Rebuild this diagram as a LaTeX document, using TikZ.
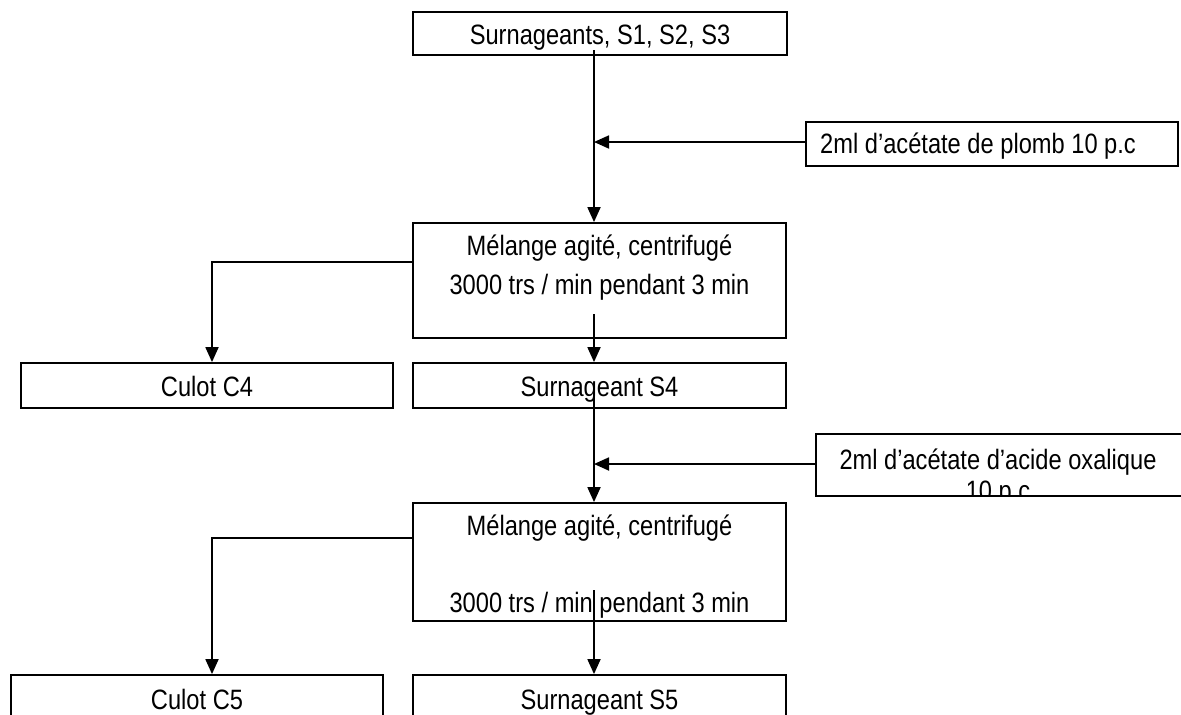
\documentclass[tikz,border=0pt]{standalone}
\usepackage{fontspec}
\setmainfont{Liberation Sans}[FakeStretch=0.845]
\usetikzlibrary{arrows.meta,positioning}

\tikzset{
 box/.style={draw, line width=1.8pt, inner sep=0pt, text height=22pt, text depth=0pt, font=\fontsize{28}{33}\selectfont},
 txt/.style={inner sep=0pt, anchor=base, font=\fontsize{28}{33}\selectfont},
 arr/.style={line width=1.8pt, -{Triangle[length=15pt,width=13pt]}}
}

\begin{document}
\begin{tikzpicture}[x=1pt,y=-1pt]
 \clip (0,0) rectangle (1181,715);
 % boxes
 \node[box, minimum width=374pt, minimum height=43pt] (surn) at (600,33.5) {Surnageants, S1, S2, S3};
 \node[box, minimum width=372pt, minimum height=44pt] (plomb) at (992,144) {};
 \node[txt, anchor=base west] (plombt) at (820,153) {2ml d’acétate de plomb 10 p.c};
 \node[box, minimum width=373pt, minimum height=115pt] (mel1) at (599.5,280.5) {};
 \node[txt] (mel1a) at (599.5,255) {Mélange agité, centrifugé};
 \node[txt] (mel1b) at (599.5,294) {3000 trs / min pendant 3 min};
 \node[box, minimum width=372pt, minimum height=45pt] (c4) at (207,385.5) {Culot C4};
 \node[box, minimum width=373pt, minimum height=45pt] (s4) at (599.5,385.5) {Surnageant S4};
 \node[box, minimum width=366pt, minimum height=62pt] (oxa) at (999,465) {};
 \begin{scope}
  \clip (oxa.south west) rectangle (oxa.north east);
  \node[txt] (oxaa) at (998,469) {2ml d’acétate d’acide oxalique};
  \node[txt] (oxab) at (998,500) {10 p.c};
 \end{scope}
 \node[box, minimum width=373pt, minimum height=118pt] (mel2) at (599.5,562) {};
 \node[txt] (mel2a) at (599.5,535) {Mélange agité, centrifugé};
 \node[txt] (mel2b) at (599.5,612) {3000 trs / min pendant 3 min};
 \node[box, minimum width=372pt, minimum height=46pt] (c5) at (197,698) {Culot C5};
 \node[box, minimum width=373pt, minimum height=46pt] (s5) at (599.5,698) {Surnageant S5};
 % arrows
 \coordinate (d0) at (594,50);
 \coordinate (d1) at (594,314);
 \coordinate (d2) at (594,396);
 \coordinate (d3) at (594,590);
 \draw[arr] (d0) -- (d0 |- mel1.north);
 \draw[arr] ([yshift=2pt]plomb.west) -- ([yshift=2pt]plomb.west -| d0);
 \draw[arr] (d1) -- (d1 |- s4.north);
 \draw[arr] ([yshift=18.5pt]mel1.west) -| ([xshift=5pt]c4.north);
 \draw[arr] (d2) -- (d2 |- mel2.north);
 \draw[arr] ([yshift=1pt]oxa.west) -- ([yshift=1pt]oxa.west -| d2);
 \draw[arr] ([yshift=24pt]mel2.west) -| ([xshift=15pt]c5.north);
 \draw[arr] (d3) -- (d3 |- s5.north);
\end{tikzpicture}
\end{document}
